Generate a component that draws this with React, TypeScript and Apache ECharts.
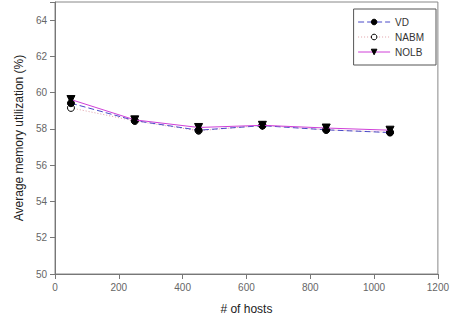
import React, { useEffect, useRef } from "react";
import * as echarts from "echarts";

const hosts = [50, 250, 450, 650, 850, 1050];
const vd = [59.42, 58.46, 57.93, 58.18, 57.95, 57.8];
const nabm = [59.16, 58.44, 57.9, 58.2, 57.95, 57.82];
const nolb = [59.62, 58.5, 58.08, 58.2, 58.05, 57.93];
const seriesNames = ["VD", "NABM", "NOLB"];

export default function App() {
  const ref = useRef<HTMLDivElement>(null);
  useEffect(() => {
    if (!ref.current) return;
    const chart = echarts.init(ref.current, undefined, { renderer: "svg" });
    const font = "Liberation Sans, Arial, sans-serif";
    const pts = (arr: number[]) => hosts.map((h, i) => [h, arr[i]]);
    chart.setOption({
      animation: false,
      backgroundColor: "#fff",
      textStyle: { fontFamily: font },
      grid: {
        left: 55,
        right: 9,
        top: 2,
        bottom: 50,
        show: true,
        borderColor: "#888",
        borderWidth: 1,
      },
      legend: {
        right: 16,
        top: 9,
        orient: "vertical",
        itemWidth: 32,
        itemHeight: 7,
        itemGap: 5,
        padding: [8, 12, 8, 4],
        borderColor: "#555",
        borderWidth: 1,
        lineStyle: { width: 1 },
        itemStyle: { borderWidth: 1 },
        textStyle: { fontSize: 10, color: "#333", fontFamily: font },
        data: seriesNames,
      },
      xAxis: {
        type: "value",
        min: 0,
        max: 1200,
        interval: 200,
        name: "# of hosts",
        nameLocation: "middle",
        nameGap: 29,
        nameTextStyle: { fontSize: 12, color: "#222", fontFamily: font },
        axisLine: { lineStyle: { color: "#777" } },
        axisTick: { show: true, length: 5, lineStyle: { color: "#777" } },
        axisLabel: { fontSize: 10, color: "#666", margin: 8, formatter: (v: number) => String(v) },
        splitLine: { show: false },
      },
      yAxis: {
        type: "value",
        min: 50,
        max: 65,
        interval: 2,
        name: "Average memory utilization (%)",
        nameLocation: "middle",
        nameGap: 28,
        nameTextStyle: { fontSize: 12, color: "#222", fontFamily: font },
        axisLine: { show: true, lineStyle: { color: "#777" } },
        axisTick: { show: true, length: 5, lineStyle: { color: "#777" } },
        axisLabel: {
          fontSize: 10,
          color: "#666",
          margin: 8,
          formatter: (v: number) => (v % 2 === 0 ? String(v) : ""),
        },
        splitLine: { show: false },
      },
      series: [
        {
          name: "VD",
          type: "line",
          data: pts(vd),
          symbol: "circle",
          symbolSize: 7,
          itemStyle: { color: "#000", borderColor: "#000", borderWidth: 1 },
          lineStyle: { color: "#4a4ac8", width: 1, type: [6, 3] },
          z: 3,
        },
        {
          name: "NABM",
          type: "line",
          data: pts(nabm),
          symbol: "circle",
          symbolSize: 7,
          itemStyle: { color: "#fff", borderColor: "#000", borderWidth: 1 },
          lineStyle: { color: "#e0a0a8", width: 1, type: [1, 2] },
          z: 2,
        },
        {
          name: "NOLB",
          type: "line",
          data: pts(nolb),
          symbol: "triangle",
          symbolRotate: 180,
          symbolSize: 8,
          itemStyle: { color: "#000", borderColor: "#000", borderWidth: 1 },
          lineStyle: { color: "#d040d8", width: 1, type: "solid" },
          z: 4,
        },
      ],
    });
    return () => chart.dispose();
  }, []);
  return (
    <div
      ref={ref}
      style={{ position: "fixed", left: 0, top: 0, width: 452, height: 324, background: "#fff" }}
    />
  );
}
